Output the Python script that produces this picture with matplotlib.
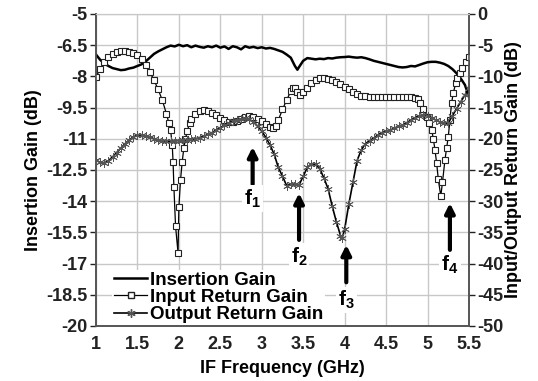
import matplotlib
matplotlib.use('Agg')
import matplotlib.pyplot as plt
from matplotlib.lines import Line2D

plt.rcParams['font.family'] = ['Liberation Sans', 'DejaVu Sans']
plt.rcParams['font.weight'] = 'bold'
plt.rcParams['axes.unicode_minus'] = False
plt.rcParams['mathtext.fontset'] = 'custom'
plt.rcParams['mathtext.rm'] = 'Liberation Sans:bold'
plt.rcParams['mathtext.bf'] = 'Liberation Sans:bold'

# insertion gain (left axis, dB)
ins_freq = [1.00, 1.05, 1.10, 1.15, 1.20, 1.25, 1.30, 1.35, 1.40, 1.45,
            1.50, 1.55, 1.60, 1.65, 1.70, 1.75, 1.80, 1.85, 1.90, 1.95,
            2.00, 2.05, 2.10, 2.15, 2.20, 2.25, 2.30, 2.35, 2.40, 2.45,
            2.50, 2.55, 2.60, 2.65, 2.70, 2.75, 2.80, 2.85, 2.90, 2.95,
            3.00, 3.05, 3.10, 3.15, 3.20, 3.25, 3.30, 3.35, 3.40, 3.43,
            3.45, 3.50, 3.55, 3.60, 3.65, 3.70, 3.75, 3.80, 3.85, 3.90,
            3.95, 4.00, 4.05, 4.10, 4.15, 4.20, 4.25, 4.30, 4.35, 4.40,
            4.45, 4.50, 4.55, 4.60, 4.65, 4.70, 4.75, 4.80, 4.85, 4.90,
            4.95, 5.00, 5.05, 5.10, 5.15, 5.20, 5.25, 5.30, 5.35, 5.40,
            5.45, 5.50]
ins_gain = [-6.95, -7.20, -7.38, -7.50, -7.60, -7.65, -7.70, -7.68, -7.62, -7.58,
            -7.50, -7.42, -7.28, -7.10, -6.92, -6.80, -6.70, -6.60, -6.52, -6.56,
            -6.48, -6.55, -6.50, -6.60, -6.52, -6.58, -6.62, -6.55, -6.60, -6.52,
            -6.62, -6.56, -6.68, -6.55, -6.60, -6.70, -6.55, -6.62, -6.58, -6.64,
            -6.60, -6.66, -6.63, -6.68, -6.75, -6.82, -6.95, -7.10, -7.50, -7.68,
            -7.55, -7.25, -7.12, -7.15, -7.18, -7.15, -7.17, -7.12, -7.14, -7.10,
            -7.08, -7.07, -7.05, -7.08, -7.10, -7.08, -7.12, -7.18, -7.25, -7.30,
            -7.35, -7.40, -7.45, -7.50, -7.55, -7.57, -7.55, -7.50, -7.52, -7.45,
            -7.38, -7.32, -7.30, -7.30, -7.34, -7.40, -7.50, -7.65, -7.85, -8.10,
            -8.40, -8.95]

# input return gain (right axis, dB)
in_freq = [1.00, 1.05, 1.10, 1.15, 1.20, 1.25, 1.30, 1.35, 1.40, 1.45,
           1.50, 1.55, 1.60, 1.65, 1.70, 1.75, 1.80, 1.85, 1.88, 1.90,
           1.92, 1.93, 1.94, 1.96, 1.99, 2.00, 2.02, 2.04, 2.06, 2.08,
           2.10, 2.13, 2.15, 2.20, 2.25, 2.30, 2.35, 2.40, 2.45, 2.50,
           2.55, 2.60, 2.65, 2.70, 2.75, 2.80, 2.85, 2.90, 2.95, 3.00,
           3.05, 3.10, 3.14, 3.17, 3.20, 3.25, 3.30, 3.35, 3.38, 3.40,
           3.43, 3.46, 3.50, 3.55, 3.60, 3.65, 3.70, 3.75, 3.80, 3.85,
           3.90, 3.95, 4.00, 4.05, 4.10, 4.15, 4.20, 4.25, 4.30, 4.35,
           4.40, 4.45, 4.50, 4.55, 4.60, 4.65, 4.70, 4.75, 4.80, 4.85,
           4.88, 4.91, 4.95, 4.99, 5.02, 5.05, 5.07, 5.09, 5.11, 5.13,
           5.16, 5.18, 5.21, 5.23, 5.25, 5.27, 5.29, 5.31, 5.34, 5.36,
           5.39, 5.42, 5.46, 5.50]
in_gain = [-10.1, -8.8, -7.7, -6.9, -6.4, -6.1, -6.0, -6.0, -6.1, -6.3,
           -6.6, -7.2, -8.2, -9.3, -10.6, -12.1, -13.8, -16.0, -17.5, -18.6,
           -21.0, -23.7, -27.7, -34.0, -38.3, -31.0, -26.6, -23.7, -21.5, -20.0,
           -18.8, -17.5, -16.8, -16.0, -15.6, -15.4, -15.5, -15.8, -16.2, -16.7,
           -17.0, -17.3, -17.3, -17.1, -16.8, -16.5, -16.3, -16.5, -16.8, -17.1,
           -17.6, -18.1, -18.3, -18.0, -17.0, -15.3, -13.8, -12.4, -11.8, -11.9,
           -12.5, -13.0, -12.5, -11.8, -11.1, -10.6, -10.3, -10.3, -10.4, -10.6,
           -10.9, -11.3, -11.7, -12.1, -12.5, -12.9, -13.1, -13.2, -13.3, -13.3,
           -13.3, -13.3, -13.3, -13.3, -13.3, -13.3, -13.3, -13.3, -13.3, -13.4,
           -13.7, -14.3, -15.3, -16.5, -17.5, -18.6, -20.0, -21.8, -23.9, -26.5,
           -29.2, -27.0, -23.4, -21.5, -19.7, -17.0, -14.3, -12.7, -11.1, -10.3,
           -9.5, -8.6, -7.7, -6.9]

# output return gain (right axis, dB)
out_freq = [1.00, 1.05, 1.10, 1.15, 1.20, 1.25, 1.30, 1.35, 1.40, 1.45,
            1.50, 1.55, 1.60, 1.65, 1.70, 1.75, 1.80, 1.85, 1.90, 1.95,
            2.00, 2.05, 2.10, 2.15, 2.20, 2.25, 2.30, 2.35, 2.40, 2.45,
            2.50, 2.55, 2.60, 2.65, 2.70, 2.75, 2.80, 2.85, 2.90, 2.95,
            3.00, 3.05, 3.10, 3.15, 3.20, 3.25, 3.30, 3.35, 3.40, 3.45,
            3.50, 3.55, 3.60, 3.65, 3.70, 3.75, 3.80, 3.85, 3.90, 3.95,
            3.97, 4.00, 4.05, 4.10, 4.15, 4.20, 4.25, 4.30, 4.35, 4.40,
            4.45, 4.50, 4.55, 4.60, 4.65, 4.70, 4.75, 4.80, 4.85, 4.90,
            4.95, 5.00, 5.05, 5.10, 5.15, 5.20, 5.25, 5.30, 5.35, 5.40,
            5.45, 5.50]
out_gain = [-23.4, -23.8, -23.9, -23.5, -22.9, -22.2, -21.5, -20.8, -20.2, -19.7,
            -19.4, -19.4, -19.5, -19.7, -20.0, -20.2, -20.3, -20.4, -20.4, -20.3,
            -20.3, -20.2, -20.2, -20.1, -20.0, -19.8, -19.6, -19.3, -19.0, -18.6,
            -18.2, -17.8, -17.5, -17.2, -17.0, -16.8, -16.7, -16.9, -17.3, -18.0,
            -18.8, -19.8, -21.0, -22.5, -24.6, -26.0, -27.5, -27.3, -27.2, -27.4,
            -26.0, -24.6, -24.0, -24.1, -24.8, -26.3, -28.0, -30.8, -33.3, -35.5,
            -35.9, -34.5, -30.5, -27.0, -23.5, -21.8, -20.8, -20.3, -19.9, -19.4,
            -19.0, -18.8, -18.6, -18.3, -18.0, -17.8, -17.4, -17.0, -16.6, -16.3,
            -16.2, -16.3, -16.6, -17.0, -17.3, -17.5, -17.5, -16.3, -15.2, -14.1,
            -13.0, -11.9]

# resonance markers: label, frequency, arrow tip, arrow tail, label position (right axis)
f_labels = [r'$\mathbf{f_1}$', r'$\mathbf{f_2}$', r'$\mathbf{f_3}$', r'$\mathbf{f_4}$']
f_freq = [2.89, 3.45, 4.02, 5.27]
f_tip = [-21.3, -28.7, -37.0, -30.3]
f_tail = [-27.3, -36.2, -43.0, -37.8]
f_text = [-29.6, -38.9, -45.8, -40.2]

fig = plt.figure(figsize=(5.38, 3.81), dpi=100)
ax = fig.add_axes([0.1784, 0.1444, 0.6933, 0.8189])
ax2 = ax.twinx()

ax.plot(ins_freq, ins_gain, color='black', lw=1.8, zorder=3)
ax.set_xlim(1, 5.5)
ax.set_ylim(-20, -5)
ax.set_xticks([1, 1.5, 2, 2.5, 3, 3.5, 4, 4.5, 5, 5.5])
ax.set_xticklabels(['1', '1.5', '2', '2.5', '3', '3.5', '4', '4.5', '5', '5.5'])
ax.set_yticks([-20, -18.5, -17, -15.5, -14, -12.5, -11, -9.5, -8, -6.5, -5])
ax.set_yticklabels(['-20', '-18.5', '-17', '-15.5', '-14', '-12.5', '-11', '-9.5', '-8', '-6.5', '-5'])
ax.grid(True, color='#c8c8c8', lw=1.0)
ax.set_axisbelow(True)

ax2.plot(in_freq, in_gain, color='black', lw=0.9, marker='s', ms=4.5,
         mfc='white', mec='#222222', mew=0.8)
ax2.plot(out_freq, out_gain, color='black', lw=1.2, marker=(6, 2, 0), ms=6,
         mec='#555555', mew=0.6)
ax2.set_ylim(-50, 0)
ax2.set_yticks(range(-50, 1, 5))
ax2.set_yticklabels([str(v) for v in range(-50, 1, 5)])

for a in (ax, ax2):
    a.tick_params(labelsize=13, length=4, width=1, direction='out', colors='#222222')
    for lbl in a.get_xticklabels() + a.get_yticklabels():
        lbl.set_fontweight('bold')
    for s in ('left', 'right', 'bottom'):
        a.spines[s].set_color('#555555')
        a.spines[s].set_linewidth(1.2)
    a.spines['top'].set_color('#c8c8c8')
ax.tick_params(axis='x', length=0, pad=7)
ax.tick_params(axis='y', pad=2)
ax2.tick_params(axis='y', pad=2)

ax.set_xlabel('IF Frequency (GHz)', fontsize=13, fontweight='bold', labelpad=5)
ax.set_ylabel('Insertion Gain (dB)', fontsize=13, fontweight='bold', labelpad=3)
ax2.set_ylabel('Input/Output Return Gain (dB)', fontsize=13, fontweight='bold', labelpad=1)

for lab, fx, tip, tail, ty in zip(f_labels, f_freq, f_tip, f_tail, f_text):
    ax2.annotate('', xy=(fx, tip), xytext=(fx, tail),
                 arrowprops=dict(arrowstyle='-|>', lw=3, color='black',
                                 mutation_scale=14, shrinkA=0, shrinkB=0))
    ax2.text(fx, ty, lab, ha='center', va='center', fontsize=15,
             bbox=dict(facecolor='white', edgecolor='none', pad=1.5))

handles = [Line2D([], [], color='black', lw=1.8),
           Line2D([], [], color='black', lw=0.9, marker='s', ms=4.5, mfc='white', mec='#222222'),
           Line2D([], [], color='black', lw=1.2, marker=(6, 2, 0), ms=6, mec='#555555')]
leg = ax2.legend(handles, ['Insertion Gain', 'Input Return Gain', 'Output Return Gain'],
                 loc='lower left', bbox_to_anchor=(0.04, 0.0),
                 prop={'weight': 'bold', 'size': 13.5},
                 frameon=True, facecolor='white', edgecolor='none', framealpha=1,
                 handlelength=1.8, handletextpad=0.15, labelspacing=0.0,
                 borderpad=0.1, borderaxespad=0.05)

fig.savefig('out.png', dpi=100)
